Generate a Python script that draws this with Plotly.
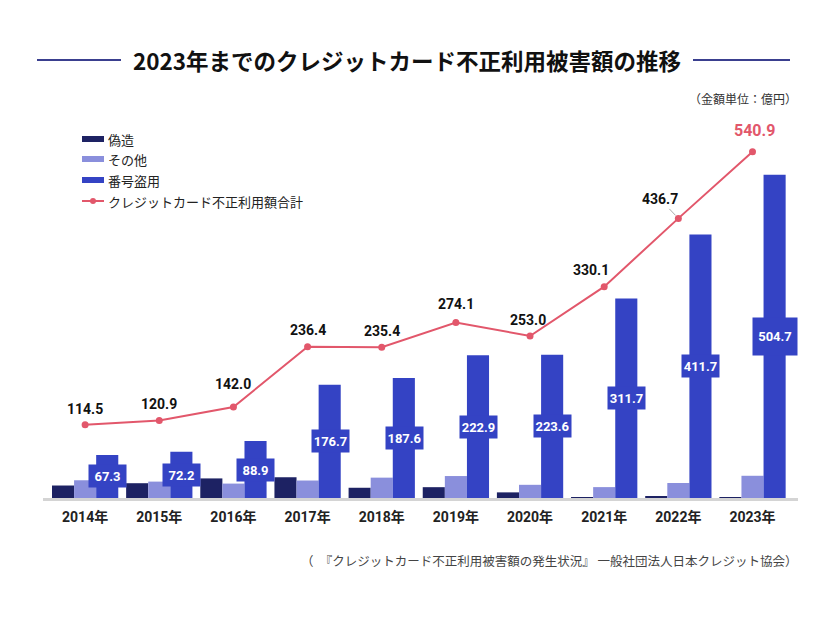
import plotly.graph_objects as go

years = ["2014年", "2015年", "2016年", "2017年", "2018年", "2019年", "2020年", "2021年", "2022年", "2023年"]
forgery = [19.5, 23.1, 30.6, 32.4, 16.0, 16.9, 8.8, 1.4, 1.6, 1.5]
other = [27.7, 25.6, 22.5, 27.3, 31.8, 34.3, 20.6, 17.0, 23.4, 34.7]
number_theft = [67.3, 72.2, 88.9, 176.7, 187.6, 222.9, 223.6, 311.7, 411.7, 504.7]
total = [114.5, 120.9, 142.0, 236.4, 235.4, 274.1, 253.0, 330.1, 436.7, 540.9]

series_names = ["偽造", "その他", "番号盗用", "クレジットカード不正利用額合計"]
title_text = "2023年までのクレジットカード不正利用被害額の推移"
unit_text = "（金額単位：億円）"
source_text = "（　『クレジットカード不正利用被害額の発生状況』 一般社団法人日本クレジット協会）"

C_FORGE = "#1d2263"
C_OTHER = "#8a8fdc"
C_THEFT = "#3443c4"
C_LINE = "#e2576b"

W, H = 826, 620
ML, MR, MT, MB = 43, 28, 130, 122
PW, PH = W - ML - MR, H - MT - MB

def px(xp):
    return (xp - ML) / PW

def py(yp):
    return (H - MB - yp) / PH

JP = "Noto Sans CJK JP"
NUM = "Roboto, 'Noto Sans CJK JP'"

fig = go.Figure()
fig.add_trace(go.Bar(x=years, y=forgery, name=series_names[0], marker=dict(color=C_FORGE, line=dict(width=0))))
fig.add_trace(go.Bar(x=years, y=other, name=series_names[1], marker=dict(color=C_OTHER, line=dict(width=0))))
fig.add_trace(go.Bar(x=years, y=number_theft, name=series_names[2], marker=dict(color=C_THEFT, line=dict(width=0))))
fig.add_trace(go.Scatter(x=years, y=total, name=series_names[3], mode="lines+markers",
                         line=dict(color=C_LINE, width=2), marker=dict(color=C_LINE, size=7)))

annotations = []
# total labels
offsets = [(0, 16), (0, 17), (0, 23), (0, 17), (0, 16), (0, 18), (-2, 16), (-13, 17), (-18, 18), (2, 21)]
for i, (yr, t) in enumerate(zip(years, total)):
    dx, dy = offsets[i]
    last = i == len(years) - 1
    annotations.append(dict(
        x=yr, y=t, xref="x", yref="y", text=f"<b>{t:.1f}</b>", showarrow=False,
        xshift=dx, yshift=dy, yanchor="middle",
        font=dict(family=NUM, size=16 if last else 14, color=C_LINE if last else "#111"),
    ))
# small leader for 436.7
annotations[8].update(dict(showarrow=True, ax=-18, ay=-19, arrowhead=0, arrowwidth=1,
                           arrowcolor="#aaaaaa", standoff=4, xshift=0, yshift=0))

# bar value labels
for i, (yr, v) in enumerate(zip(years, number_theft)):
    last = i == len(years) - 1
    annotations.append(dict(
        x=yr, y=v / 2, xref="x", yref="y", text=f"<b>{v:.1f}</b>", showarrow=False,
        xshift=22.5, yanchor="middle", bgcolor=C_THEFT, width=42 if last else 35, height=35 if last else 20,
        borderpad=1, font=dict(family=NUM, size=13, color="white"),
    ))

# title, unit, source
annotations.append(dict(x=px(407), y=py(60), xref="paper", yref="paper", text=f"<b>{title_text}</b>",
                        yanchor="middle", showarrow=False, font=dict(family=JP, size=22.5, color="#111")))
annotations.append(dict(x=px(799), y=py(98), xref="paper", yref="paper", text=unit_text, xanchor="right",
                        yanchor="middle", showarrow=False, font=dict(family=JP, size=12, color="#333")))
annotations.append(dict(x=px(800), y=py(560), xref="paper", yref="paper", text=source_text, xanchor="right",
                        yanchor="middle", showarrow=False, font=dict(family=JP, size=12.5, color="#444")))

shapes = [
    dict(type="line", xref="paper", yref="paper", x0=px(37), x1=px(121), y0=py(60), y1=py(60),
         line=dict(color="#3a3f8f", width=2)),
    dict(type="line", xref="paper", yref="paper", x0=px(693), x1=px(790), y0=py(60), y1=py(60),
         line=dict(color="#3a3f8f", width=2)),
]

# manual legend
leg_y = [139, 159, 180, 201]
leg_colors = [C_FORGE, C_OTHER, C_THEFT]
for k in range(3):
    shapes.append(dict(type="rect", xref="paper", yref="paper", x0=px(82), x1=px(104),
                       y0=py(leg_y[k] + 3), y1=py(leg_y[k] - 3), fillcolor=leg_colors[k], line=dict(width=0)))
shapes.append(dict(type="line", xref="paper", yref="paper", x0=px(82), x1=px(104), y0=py(leg_y[3]), y1=py(leg_y[3]),
                   line=dict(color=C_LINE, width=2)))
shapes.append(dict(type="circle", xref="paper", yref="paper", x0=px(90), x1=px(96), y0=py(leg_y[3] + 3),
                   y1=py(leg_y[3] - 3), fillcolor=C_LINE, line=dict(width=0)))
for k in range(4):
    annotations.append(dict(x=px(106), y=py(leg_y[k]), xref="paper", yref="paper", text=series_names[k],
                            xanchor="left", yanchor="middle", showarrow=False,
                            font=dict(family=JP, size=13, color="#222")))

fig.update_layout(
    width=W, height=H, margin=dict(l=ML, r=MR, t=MT, b=MB),
    paper_bgcolor="white", plot_bgcolor="white",
    barmode="group", bargap=0.106, bargroupgap=0,
    showlegend=False,
    xaxis=dict(type="category", showline=True, linecolor="#d4d4d4", linewidth=3, showgrid=False,
               ticks="outside", ticklen=4, tickcolor="rgba(0,0,0,0)",
               tickfont=dict(family=NUM, size=14, color="#222"), fixedrange=True),
    yaxis=dict(visible=False, range=[0, PH / 0.6403], showgrid=False, zeroline=False),
    annotations=annotations, shapes=shapes,
)
fig.update_xaxes(tickvals=years, ticktext=[f"<b>{y}</b>" for y in years])

fig.write_html("out.html")
